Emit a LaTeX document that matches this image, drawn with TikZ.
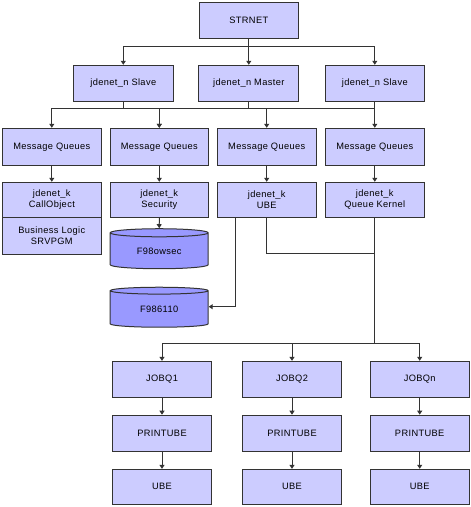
\documentclass[tikz,border=0pt]{standalone}
\usepackage{fontspec}
\setmainfont{Liberation Sans}[LetterSpace=4]
\usetikzlibrary{arrows.meta, positioning, shapes.geometric}
\definecolor{BoxLilac}{HTML}{CCCCFF}
\definecolor{DiskBlue}{HTML}{9999FF}
\definecolor{EdgeGray}{HTML}{333333}

\begin{document}
\begin{tikzpicture}[x=1bp, y=-1bp, >={Triangle[length=4bp, width=5bp]},
        proc/.style={draw=EdgeGray, fill=BoxLilac, line width=1bp, minimum width=99bp,
            minimum height=36bp, inner sep=0pt, align=center, font=\fontsize{9.3}{11}\selectfont},
        disk/.style={cylinder, shape border rotate=90, aspect=0.18, draw=EdgeGray, fill=DiskBlue,
            line width=1bp, minimum width=98bp, minimum height=40bp, inner sep=0pt,
            font=\fontsize{9.3}{11}\selectfont},
        wire/.style={draw=EdgeGray, line width=1bp},
        link/.style={wire, ->}]
        % Page frame
        \useasboundingbox (0,0) rectangle (471,507);

        % Top server node
        \node[proc] (strnet) at (248.8, 20.3) {STRNET};

        % Network listeners
        \node[proc, minimum width=100bp] (slaveA) at (123.3, 83.3) {jdenet\_n Slave};
        \node[proc, minimum width=100bp] (master) at (248.8, 83.3) {jdenet\_n Master};
        \node[proc] (slaveB) at (374.8, 83.3) {jdenet\_n Slave};

        % Message queues
        \node[proc, minimum height=37bp] (mqA) at (51.8, 146.8) {Message Queues};
        \node[proc, minimum width=98bp, minimum height=37bp] (mqB) at (159.3, 146.8) {Message Queues};
        \node[proc, minimum height=37bp] (mqC) at (266.7, 146.8) {Message Queues};
        \node[proc, minimum height=37bp] (mqD) at (374.8, 146.8) {Message Queues};

        % Kernels
        \node[proc, minimum height=35bp] (callobj) at (51.8, 199.8) {jdenet\_k\\CallObject};
        \node[proc, minimum height=37bp] (bizlogic) at (51.8, 235.8) {Business Logic\\SRVPGM};
        \node[proc, minimum width=98bp, minimum height=35bp] (security) at (159.3, 199.8) {jdenet\_k\\Security};
        \node[proc, minimum height=35bp] (ubeK) at (266.7, 199.8) {jdenet\_k\\UBE};
        \node[proc, minimum height=35bp] (queueK) at (374.8, 199.8) {jdenet\_k\\Queue Kernel};

        % Tables
        \node[disk] (owsec) at (159.2, 251) {F98owsec};
        \node[disk] (jobtab) at (159.2, 309.2) {F986110};

        % Job queues and their chains
        \node[proc, minimum height=36.4bp] (jobq1) at (162, 379.5) {JOBQ1};
        \node[proc, minimum height=36.4bp] (jobq2) at (292, 379.5) {JOBQ2};
        \node[proc, minimum height=36.4bp] (jobqn) at (419.7, 379.5) {JOBQn};
        \node[proc] (print1) at (162, 433.2) {PRINTUBE};
        \node[proc] (print2) at (292, 433.2) {PRINTUBE};
        \node[proc] (printn) at (419.7, 433.2) {PRINTUBE};
        \node[proc, minimum height=35bp] (ube1) at (162, 486.8) {UBE};
        \node[proc, minimum height=35bp] (ube2) at (292, 486.8) {UBE};
        \node[proc, minimum height=35bp] (uben) at (419.7, 486.8) {UBE};

        % Bus points
        \coordinate (busTop) at (0, 46.3);
        \coordinate (busMid) at (0, 109);
        \coordinate (merge) at (374.8, 253.3);
        \coordinate (fork) at (374.8, 343.3);

        % STRNET to listeners
        \draw[link] (strnet.south) |- (slaveA.north |- busTop) -- (slaveA.north);
        \draw[link] (strnet.south) -- (master.north);
        \draw[link] (strnet.south) |- (slaveB.north |- busTop) -- (slaveB.north);

        % Listeners to message queues
        \draw[link] (slaveA.south) -- (slaveA.south |- busMid) -| (mqA.north);
        \draw[link] (slaveA.south |- busMid) -| (mqB.north);
        \draw[link] (master.south) |- (mqB.north |- busMid) -- (mqB.north);
        \draw[link] (master.south) |- (mqC.north |- busMid) -- (mqC.north);
        \draw[wire] (master.south |- busMid) -- (mqD.north |- busMid);
        \draw[link] (slaveB.south) -- (mqD.north);

        % Message queues to kernels
        \draw[link] (mqA.south) -- (callobj.north);
        \draw[link] (mqB.south) -- (security.north);
        \draw[link] (mqC.south) -- (ubeK.north);
        \draw[link] (mqD.south) -- (queueK.north);

        % Kernels to tables
        \draw[link] (security.south) -- (owsec.north);
        \draw[link] ([xshift=-31bp]ubeK.south) |- ([yshift=2.5bp]jobtab.east);

        % Kernels to job queues
        \draw[wire] (ubeK.south) |- (merge);
        \draw[link] (queueK.south) -- (fork) -| (jobq1.north);
        \draw[link] (fork) -| (jobq2.north);
        \draw[link] (fork) -| (jobqn.north);

        % Job queue chains
        \foreach \q/\p/\u in {jobq1/print1/ube1, jobq2/print2/ube2, jobqn/printn/uben} {
            \draw[link] (\q.south) -- (\p.north);
            \draw[link] (\p.south) -- (\u.north);
        }
    \end{tikzpicture}
\end{document}
